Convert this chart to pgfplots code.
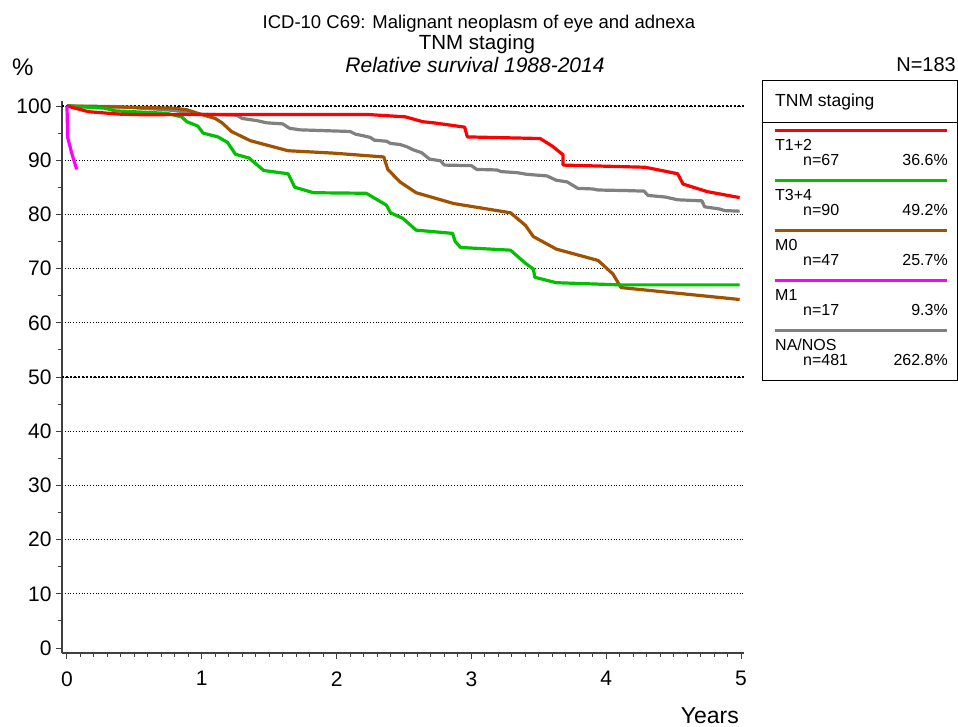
\documentclass[border=0pt]{standalone}
\usepackage{fontspec}
\setmainfont{Liberation Sans}
\usepackage{pgfplots}
\pgfplotsset{compat=1.18}
\definecolor{cred}{RGB}{255,0,0}
\definecolor{cgreen}{RGB}{0,192,0}
\definecolor{cbrown}{RGB}{160,82,0}
\definecolor{cmag}{RGB}{255,0,255}
\definecolor{cgray}{RGB}{128,128,128}
\definecolor{axgray}{RGB}{64,64,64}
\begin{document}
\begin{tikzpicture}[x=1pt,y=1pt]
\useasboundingbox (0,0) rectangle (958,727);
\begin{axis}[
  at={(62pt,74pt)}, anchor=south west,
  scale only axis, width=681.7pt, height=552.4pt,
  xmin=-0.037, xmax=5.02, ymin=-0.92, ymax=101,
  axis x line*=bottom, axis y line*=left,
  axis line style={axgray, line width=1.5pt, -},
  xtick={0,1,2,3,4,5}, minor x tick num=9,
  ytick={10,20,30,40,50,60,70,80,90,100},
  minor ytick={5,15,25,35,45,55,65,75,85,95},
  extra y ticks={0}, extra y tick style={grid=none},
  ymajorgrids,
  major grid style={black, line width=0.8pt, dash pattern=on 0.8pt off 2pt},
  tick align=outside,
  tick style={axgray, line width=1pt},
  major tick length=6pt, minor tick length=4pt,
  ticklabel style={font=\fontsize{21}{24}\selectfont},
  yticklabel style={xshift=-1pt},
  xticklabel style={yshift=-9pt},
  /pgf/number format/assume math mode=true,
  clip=false,
]
\draw[black, line width=1.8pt, dash pattern=on 1.8pt off 2.2pt] (axis cs:-0.037,100) -- (axis cs:5.02,100);
\draw[black, line width=1.8pt, dash pattern=on 1.8pt off 2.2pt] (axis cs:-0.037,50) -- (axis cs:5.02,50);
% NA/NOS
\addplot[cgray, line width=3.2pt, line join=round] coordinates {
(0,100) (0.36,99.9) (0.68,99.4) (0.74,99.3) (0.85,99.0) (0.99,98.5) (1.26,98.3) (1.30,97.7)
(1.41,97.3) (1.48,96.9) (1.60,96.7) (1.65,95.9) (1.73,95.6) (2.10,95.3) (2.14,94.8) (2.20,94.5)
(2.25,94.2) (2.28,93.7) (2.37,93.5) (2.40,93.1) (2.47,92.9) (2.52,92.5) (2.57,91.9) (2.63,91.4)
(2.69,90.2) (2.77,89.9) (2.80,89.1) (3.00,89.0) (3.04,88.3) (3.19,88.2) (3.22,87.9) (3.34,87.7)
(3.41,87.4) (3.56,87.1) (3.63,86.3) (3.71,86.0) (3.79,84.8) (3.90,84.7) (3.94,84.5) (4.14,84.4)
(4.28,84.3) (4.31,83.5) (4.44,83.2) (4.53,82.7) (4.71,82.5) (4.73,81.4) (4.84,81.0) (4.88,80.7) (4.99,80.6)
};
% M0
\addplot[cbrown, line width=3.2pt, line join=round] coordinates {
(0,100) (0.80,99.6) (0.89,99.3) (0.99,98.5) (1.10,97.7) (1.15,96.9) (1.22,95.3) (1.36,93.6)
(1.48,92.8) (1.64,91.75) (1.98,91.3) (2.35,90.6) (2.38,88.3) (2.47,86.0) (2.59,84.0) (2.87,82.0)
(3.29,80.3) (3.40,78.0) (3.46,75.9) (3.63,73.6) (3.94,71.5) (4.05,69.0) (4.11,66.5) (4.99,64.3)
};
% T3+4
\addplot[cgreen, line width=3.2pt, line join=round] coordinates {
(0,100) (0.28,99.6) (0.36,99.1) (0.74,98.65) (0.85,98.0) (0.89,97.1) (0.97,96.3) (1.01,95.0)
(1.12,94.3) (1.19,93.3) (1.25,91.1) (1.35,90.4) (1.46,88.1) (1.64,87.5) (1.69,85.0) (1.83,84.0)
(2.22,83.9) (2.37,81.7) (2.40,80.3) (2.49,79.3) (2.59,77.1) (2.86,76.5) (2.88,75.0) (2.92,73.9)
(3.29,73.4) (3.40,71.0) (3.46,69.9) (3.47,68.4) (3.63,67.4) (4.10,67.0) (4.99,67.0)
};
% T1+2
\addplot[cred, line width=3.2pt, line join=round] coordinates {
(0,100) (0.16,98.95) (0.39,98.5) (0.54,98.4) (2.22,98.45) (2.51,98.0) (2.64,97.1) (2.72,96.9)
(2.95,96.1) (2.97,94.3) (3.51,94.0) (3.60,92.6) (3.68,91.0) (3.68,89.1) (4.29,88.7) (4.53,87.5)
(4.57,85.6) (4.75,84.2) (4.99,83.1)
};
% M1
\addplot[cmag, line width=3.2pt, line join=round] coordinates {
(0,100) (0.005,94.2) (0.035,91.3) (0.072,88.3)
};
\end{axis}
% titles
\node[font=\fontsize{18.5}{22}\selectfont, anchor=base] at (479,698) {ICD-10 C69: Malignant neoplasm of eye and adnexa};
\node[font=\fontsize{20.5}{24}\selectfont, anchor=base] at (477,677) {TNM staging};
\node[font=\fontsize{21}{24}\selectfont\itshape, anchor=base] at (475,654) {Relative survival 1988-2014};
\node[font=\fontsize{24}{28}\selectfont, anchor=base west, inner sep=0pt] at (12,651) {\%};
\node[font=\fontsize{20}{24}\selectfont, anchor=base east, inner sep=0pt] at (956,655) {N=183};
\node[font=\fontsize{23}{27}\selectfont, anchor=base east, inner sep=0pt] at (739,3) {Years};
% legend
\draw[black, line width=1pt] (762,646) rectangle (957,346);
\draw[black, line width=1pt] (762,604.3) -- (957,604.3);
\node[font=\fontsize{17.5}{21}\selectfont, anchor=base west, inner sep=0pt] at (775,620) {TNM staging};
\foreach \c/\name/\n/\p [count=\i from 0] in {cred/T1+2/n=67/36.6\%, cgreen/T3+4/n=90/49.2\%, cbrown/M0/n=47/25.7\%, cmag/M1/n=17/9.3\%, cgray/NA\slash NOS/n=481/262.8\%}{
  \draw[\c, line width=2.7pt] (775,{727-130.7-50*\i}) -- (947,{727-130.7-50*\i});
  \node[font=\fontsize{16}{19}\selectfont, anchor=base west, inner sep=0pt] at (775,{727-150.7-50*\i}) {\name};
  \node[font=\fontsize{16}{19}\selectfont, anchor=base west, inner sep=0pt] at (803,{727-165.5-50*\i}) {\n};
  \node[font=\fontsize{16}{19}\selectfont, anchor=base east, inner sep=0pt] at (948,{727-165.5-50*\i}) {\p};
}
\end{tikzpicture}
\end{document}
